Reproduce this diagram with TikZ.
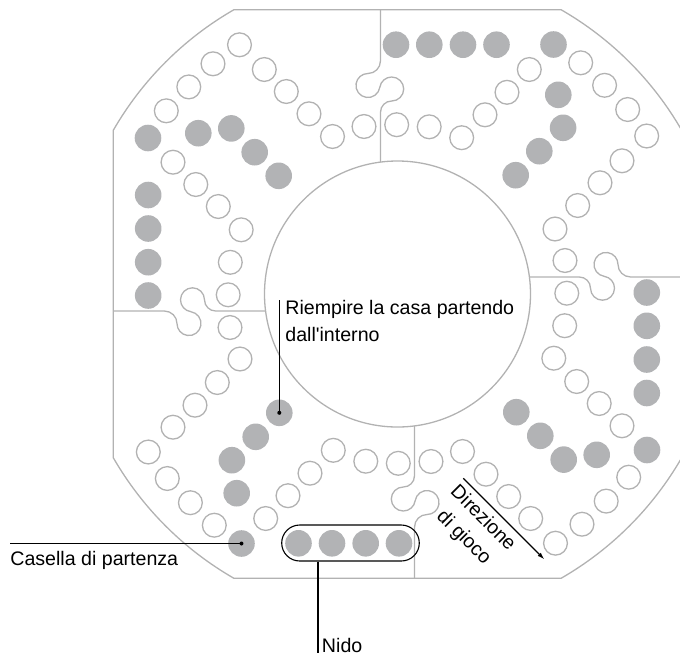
\documentclass[tikz,border=0pt]{standalone}
\usepackage{fontspec}
\setmainfont{Liberation Sans}[Ligatures=TeXOff]
\usetikzlibrary{arrows.meta}
\definecolor{boardgray}{RGB}{178,178,178}
\definecolor{peggray}{RGB}{178,179,181}

\begin{document}
\begin{tikzpicture}[x=0.5pt,y=0.5pt,
    hole/.style={circle,draw=boardgray,line width=0.65pt,minimum size=11.9pt,inner sep=0pt},
    peg/.style={circle,fill=peggray,minimum size=13.3pt,inner sep=0pt},
    board/.style={draw=boardgray,line width=0.65pt},
    leader/.style={draw=black,line width=0.55pt},
    lbl/.style={font=\fontsize{9.8}{13.5}\selectfont,inner sep=0pt}]
  \useasboundingbox (-397.5,-361) rectangle (282.5,294);
  \draw[board] (29.92:328) arc[start angle=29.92,end angle=60.08,radius=328]
    -- (119.92:328) arc[start angle=119.92,end angle=150.08,radius=328]
    -- (209.92:328) arc[start angle=209.92,end angle=240.08,radius=328]
    -- (299.92:328) arc[start angle=299.92,end angle=330.08,radius=328] -- cycle;
  \draw[board] (0,0) circle[radius=133];
  \foreach \r in {0,-90,-180,-270} {
    \draw[board,rotate=\r] (17,-131.9) -- (17,-181.8)
      arc[start angle=0,end angle=-90,radius=11.2]
      arc[start angle=90,end angle=351.6,radius=12]
      arc[start angle=171.6,end angle=-90,radius=12]
      arc[start angle=90,end angle=180,radius=12.5] -- (17,-284.3); }
  \foreach \q/\r in {0/0,1/-90,2/-180,3/-270} {
    \begin{scope}[rotate=\r]
      \foreach \x/\y [count=\i] in {-167.5/-33.5,-157.5/-65,-180.2/-88.5,-202.5/-111.2,
          -224.5/-133.2,-249.2/-158,-230.2/-184.5,-207.1/-208.7,-183.2/-231.2,
          -131.8/-224.5,-109.5/-201.7,-87.5/-179.2,-64.2/-156.3,-31.7/-167.2,0.8/-169.3}
        \node[hole] (hole\q-\i) at (\x,\y) {};
      \foreach \x/\y [count=\i] in {-118.2/-118.8,-141.8/-142.8,-165.6/-166.2,-160.8/-199.2}
        \node[peg] (home\q-\i) at (\x,\y) {};
      \foreach \x [count=\i] in {-99,-65.5,-31.8,1.5}
        \node[peg] (nest\q-\i) at (\x,-249.3) {};
      \node[peg] (start\q) at (-156,-249.5) {};
    \end{scope} }
  \fill (start0.center) circle[radius=2];
  \fill (home0-1.center) circle[radius=2];
  \node[lbl,anchor=base west] (casella) at (-387.5,-271) {Casella di partenza};
  \draw[leader] (start0.center) -- (start0.center -| casella.west);
  \node[lbl,anchor=north west,align=left] (riempire) at (-112.5,-6)
    {Riempire la casa partendo\\dall'interno};
  \draw[leader] (home0-1.center) -- (home0-1.center |- riempire.north);
  \node[draw,line width=0.55pt,rounded corners=9pt,minimum width=68.8pt,
    minimum height=18pt,inner sep=0pt] (nest) at (-47,-249) {};
  \node[lbl,anchor=base west,inner sep=1.8pt] (nido) at (-79.5,-358.5) {Nido};
  \draw[leader] (nest.south -| nido.base west) -- (nido.base west);
  \coordinate (dirstart) at (65.8,-184.3);
  \coordinate (dirend) at (146.8,-265.3);
  \draw[leader,-{Latex[length=3.5pt,width=2.2pt]}] (dirstart) -- (dirend);
  \node[lbl,rotate=-45,align=center] (direzione) at (75.5,-234.2) {Direzione\\di gioco};
\end{tikzpicture}
\end{document}
